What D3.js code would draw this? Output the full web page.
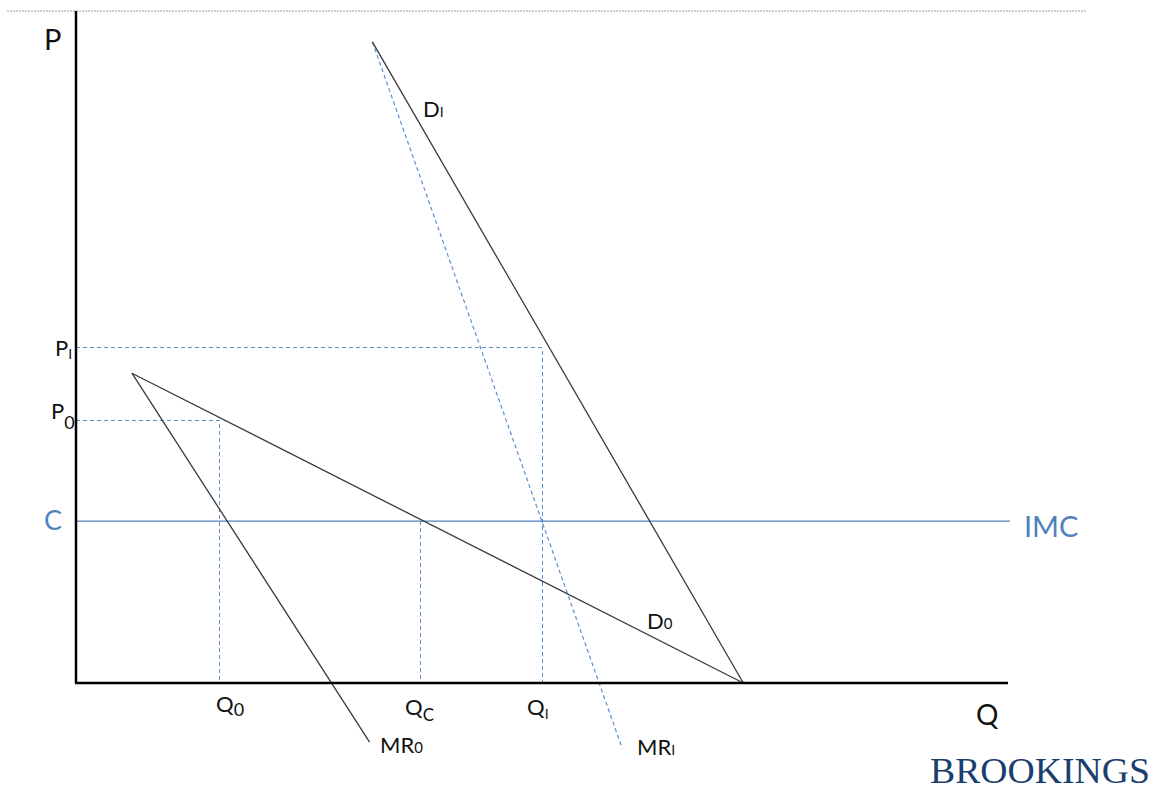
<!DOCTYPE html>
<html><head><meta charset="utf-8">
<script src="https://cdn.jsdelivr.net/npm/d3@7"></script>
<style>body{margin:0;background:#fff}svg{display:block}text{font-family:Lato,"Open Sans",sans-serif}</style>
</head><body><svg id="c" width="1158" height="791"></svg>
<script>
// Data in abstract units (Q: 0..100, P: 0..100)
const demand0 = [[6.0, 46.1], [71.6, 0]];          // D0
const mr0 = [[6.0, 46.1], [31.5, -8.8]];            // MR0
const demandI = [[31.8, 95.4], [71.6, 0]];          // DI
const mrI = [[31.8, 95.4], [58.6, -9.7]];           // MRI (dashed)
const costC = 24.1;                                  // IMC level
const priceI = 49.9, qtyI = 50.0;                    // PI, QI
const price0 = 39.1, qty0 = 15.4;                    // P0, Q0
const qtyC = 37.0;                                   // QC
const axisLabels = ["P", "Q"];

const svg = d3.select("#c");
const x = d3.scaleLinear().domain([0, 100]).range([76, 1008]);
const y = d3.scaleLinear().domain([0, 100]).range([683, 11]);
const blue = "#4f81bd", dashBlue = "#5a8fd2", dark = "#3a3a3a";
const line = d3.line().x(d => x(d[0])).y(d => y(d[1]));

// top dotted rule
svg.append("line").attr("x1", 7).attr("x2", 1087).attr("y1", 11).attr("y2", 11)
  .attr("stroke", "#999").attr("stroke-width", 1).attr("stroke-dasharray", "2,1");

// dashed guide lines
function dl(p, crisp) {
  const e = svg.append("path").attr("d", line(p)).attr("fill", "none").attr("stroke", dashBlue)
    .attr("stroke-width", crisp ? 1 : 1.2).attr("stroke-dasharray", "4,3");
  if (crisp) e.attr("shape-rendering", "crispEdges");
}
dl([[0, priceI], [qtyI, priceI], [qtyI, 0]], true);
dl([[0, price0], [qty0, price0], [qty0, 0]], true);
dl([[qtyC, costC], [qtyC, 0]], true);
dl(mrI, false);

// IMC line
svg.append("line").attr("x1", x(0)).attr("x2", x(100.2)).attr("y1", y(costC)).attr("y2", y(costC))
  .attr("stroke", blue).attr("stroke-width", 1.3);

// curves
[demand0, mr0, demandI].forEach(p =>
  svg.append("path").attr("d", line(p)).attr("fill", "none").attr("stroke", dark).attr("stroke-width", 1.3));

// axes
svg.append("line").attr("x1", x(0)).attr("x2", x(0)).attr("y1", y(100)).attr("y2", y(0)).attr("stroke", "#000").attr("stroke-width", 2.5);
svg.append("line").attr("x1", x(0) - 1).attr("x2", x(100)).attr("y1", y(0)).attr("y2", y(0)).attr("stroke", "#000").attr("stroke-width", 2.5);

function lab(px, py, main, sub, opts = {}) {
  const t = svg.append("text").attr("x", px).attr("y", py).attr("font-size", opts.size || 22)
    .attr("fill", opts.color || "#111");
  t.append("tspan").text(main);
  if (sub) t.append("tspan").text(sub).attr("font-size", opts.subSize || 15)
    .attr("dy", opts.subDy != null ? opts.subDy : 5).attr("fill", opts.subColor || opts.color || "#111");
}
lab(44, 50, axisLabels[0], null, {size: 29});
lab(976, 725, axisLabels[1], null, {size: 28});
lab(55, 356, "P", "I", {subDy: 3, subSize: 14});
lab(51, 419, "P", "0", {subDy: 10, subSize: 18});
lab(44, 530, "C", null, {size: 27, color: blue});
lab(216, 712, "Q", "0", {subDy: 4, subSize: 18});
lab(405, 715, "Q", "C", {subDy: 6, subSize: 17});
lab(527, 715, "Q", "I", {subDy: 4, subSize: 14});
lab(380, 753, "MR", "0", {subDy: 0, subSize: 15});
lab(637, 755, "MR", "I", {subDy: 0, subSize: 14});
lab(423, 117, "D", "I", {subDy: 0, subSize: 14});
lab(647, 629, "D", "0", {subDy: 0, subSize: 15});
lab(1024, 537, "IMC", null, {size: 29, color: blue});

svg.append("text").attr("x", 930).attr("y", 783)
  .style("font-family", "'Liberation Serif', 'DejaVu Serif', serif")
  .attr("font-size", 35).attr("fill", "#1a3f6f").attr("textLength", 220).attr("lengthAdjust", "spacingAndGlyphs").text("BROOKINGS");
</script></body></html>
